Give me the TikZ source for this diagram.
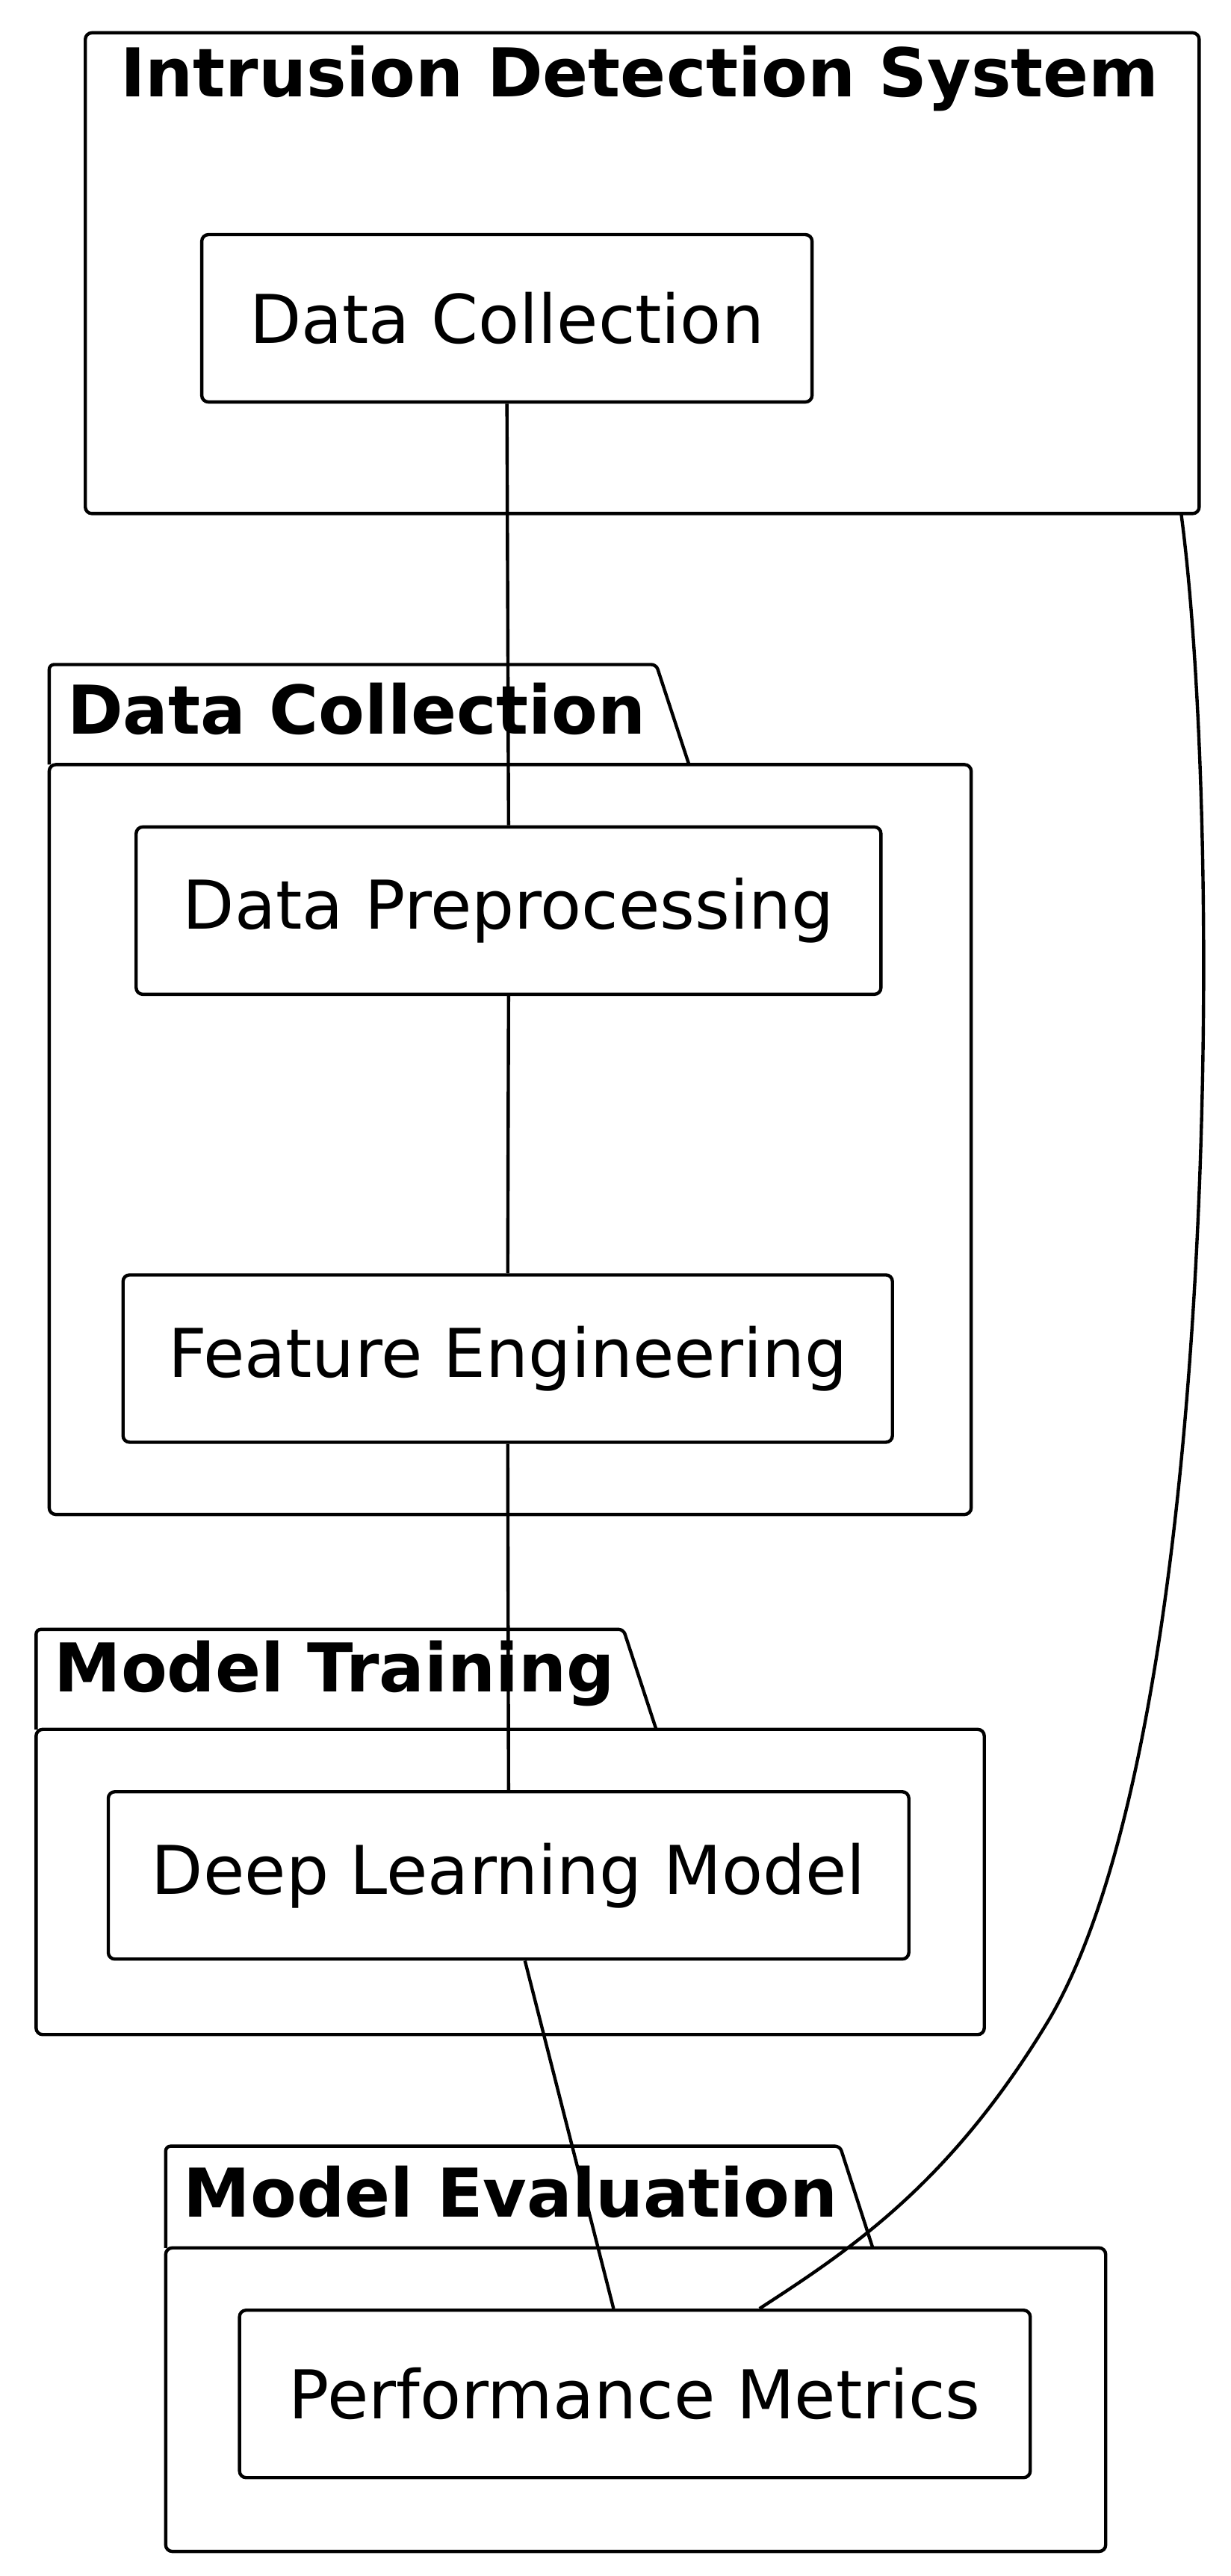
\documentclass[tikz,border=0pt]{standalone}
\usepackage{fontspec}
\setmainfont{DejaVu Sans}
\begin{document}
\begin{tikzpicture}[x=1pt,y=-1pt,line width=2pt,
  comp/.style={draw,rounded corners=4pt,inner sep=0pt,font=\fontsize{41}{49}\selectfont},
  ttl/.style={font=\bfseries\fontsize{41}{49}\selectfont,inner sep=0pt}]
\useasboundingbox (0,0) rectangle (750,1570);
% IDS frame
\draw[rounded corners=4pt] (52,20) rectangle (731,313);
\node[ttl] (t1) at (390,48) {Intrusion Detection System};
% packages
\draw[rounded corners=3pt] (30,466) -- (30,405) -- (400,405) -- (420,466);
\draw[rounded corners=4pt] (30,466) rectangle (592,923);
\node[ttl,anchor=west] (t2) at (40,432) {Data Collection};
\draw[rounded corners=3pt] (22,1054) -- (22,993) -- (380,993) -- (400,1054);
\draw[rounded corners=4pt] (22,1054) rectangle (600,1240);
\node[ttl,anchor=west] (t3) at (32,1020) {Model Training};
\draw[rounded corners=3pt] (101,1370) -- (101,1308) -- (512,1308) -- (532,1370);
\draw[rounded corners=4pt] (101,1370) rectangle (674,1555);
\node[ttl,anchor=west] (t4) at (111,1336) {Model Evaluation};
% components
\node[comp,minimum width=372pt,minimum height=102pt] (dc) at (309,194) {Data Collection};
\node[comp,minimum width=454pt,minimum height=102pt] (dp) at (310,555) {Data Preprocessing};
\node[comp,minimum width=469pt,minimum height=102pt] (fe) at (309.5,828) {Feature Engineering};
\node[comp,minimum width=488pt,minimum height=102pt] (dl) at (310,1143) {Deep Learning Model};
\node[comp,minimum width=482pt,minimum height=102pt] (pm) at (387,1459) {Performance Metrics};
\coordinate (ids) at (720,313);
% connectors
\draw (dc.south) -- (dp.north);
\draw (dp.south) -- (fe.north);
\draw (fe.south) -- (dl.north);
\draw ([xshift=10pt]dl.south) -- ([xshift=-13pt]pm.north);
\draw (ids) .. controls (745,500) and (745,1050) .. (640,1230) .. controls (580,1330) and (520,1370) .. ([xshift=76pt]pm.north);
\end{tikzpicture}
\end{document}
